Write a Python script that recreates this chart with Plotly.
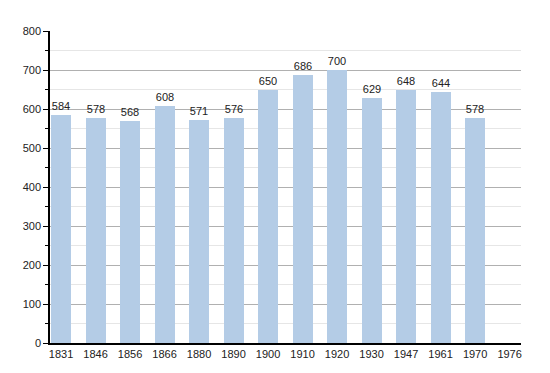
import plotly.graph_objects as go

years = ["1831", "1846", "1856", "1866", "1880", "1890", "1900", "1910", "1920",
         "1930", "1947", "1961", "1970", "1976"]
population = [584, 578, 568, 608, 571, 576, 650, 686, 700, 629, 648, 644, 578]

positions = list(range(len(years)))

fig = go.Figure()
fig.add_trace(go.Bar(
    x=positions[:len(population)],
    y=population,
    width=0.58,
    marker=dict(color="#b4cce6", line=dict(width=0)),
    text=[str(v) for v in population],
    textposition="outside",
    textfont=dict(family="Liberation Sans, Arial, sans-serif", size=11, color="#222"),
    cliponaxis=False,
    hoverinfo="skip",
))

fig.update_layout(
    width=550, height=373,
    margin=dict(l=42, r=37, t=23, b=38),
    paper_bgcolor="white",
    plot_bgcolor="white",
    showlegend=False,
    font=dict(family="Liberation Sans, Arial, sans-serif", size=11, color="#222"),
    bargap=0,
)
fig.update_xaxes(
    range=[-0.32, 13.33],
    tickmode="array",
    tickvals=positions,
    ticktext=years,
    showgrid=False,
    showline=True,
    linecolor="black",
    linewidth=1.5,
    ticks="",
    zeroline=False,
    tickfont=dict(size=11, color="#222"),
)
fig.update_yaxes(
    range=[0, 800],
    tick0=0, dtick=100,
    showgrid=True,
    gridcolor="#b0b0b0",
    gridwidth=1,
    showline=True,
    linecolor="black",
    linewidth=1.5,
    ticks="outside",
    ticklen=5,
    tickcolor="black",
    zeroline=False,
    tickfont=dict(size=11, color="#222"),
    minor=dict(dtick=50, showgrid=True, gridcolor="#e6e6e6", ticks="outside",
               ticklen=3, tickcolor="black"),
)

fig.write_html("out.html")
